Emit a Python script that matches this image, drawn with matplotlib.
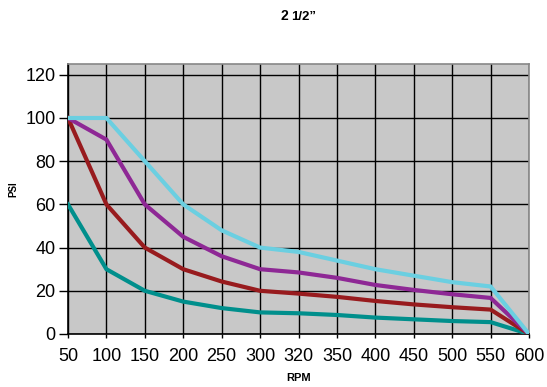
import matplotlib
matplotlib.use("Agg")
import matplotlib.pyplot as plt

plt.rcParams['font.family'] = ['Liberation Sans', 'DejaVu Sans']

rpm = ['50', '100', '150', '200', '250', '300', '320', '350', '400', '450', '500', '550', '600']
cyan_vals = [100, 100, 80, 60, 48, 40, 38, 34, 30, 27, 24, 22, 0]
purple_vals = [100, 90, 60, 45, 36, 30, 28.5, 26, 22.7, 20.4, 18.4, 16.7, 0]
red_vals = [100, 60, 40, 30, 24.3, 20, 18.7, 17.2, 15.3, 13.7, 12.4, 11.3, 0]
teal_vals = [60, 30, 20, 15, 12, 10, 9.6, 8.8, 7.6, 6.8, 6, 5.5, 0]

series = [
    (teal_vals, '#008F8C'),
    (red_vals, '#981B1E'),
    (purple_vals, '#8E2895'),
    (cyan_vals, '#6BCFE1'),
]

W, H = 547, 387
fig = plt.figure(figsize=(W/100, H/100), dpi=100)
ax = fig.add_axes([68/W, 1-334/H, (529-68)/W, (334-64)/H])
ax.set_facecolor('#C8C8C8')

x = list(range(len(rpm)))
for vals, col in series:
    ax.plot(x, vals, color=col, lw=3, solid_joinstyle='miter', zorder=3)

ax.set_xlim(0, len(rpm)-1)
ax.set_ylim(0, 125)
ax.set_xticks(x)
ax.set_xticklabels(rpm)
ax.set_yticks(range(0, 121, 20))
ax.grid(True, color='black', lw=1, zorder=1)
ax.set_axisbelow(True)
ax.tick_params(axis='x', direction='out', length=3, width=1, labelsize=13, color='black', pad=7)
ax.tick_params(axis='y', direction='out', length=6.5, width=1, labelsize=13, color='black', pad=2.5)
for s in ax.spines.values():
    s.set_color('#888888')
    s.set_linewidth(1.2)
ax.spines['bottom'].set_color('black')
ax.spines['left'].set_color('black')

fig.text(299/W, 1-378/H, 'RPM', fontsize=8, fontweight='bold', ha='center', va='center')
fig.text(13/W, 1-189/H, 'PSI', fontsize=7, fontweight='bold', ha='center', va='center', rotation=90)

fig.text(280.7/W, 1-16.5/H, '2', fontsize=10, fontweight='bold', ha='left', va='center')
fig.text(291.5/W, 1-17/H, '1/2\u201d', fontsize=9.5, fontweight='bold', ha='left', va='center')

fig.savefig('out.png', dpi=100)
